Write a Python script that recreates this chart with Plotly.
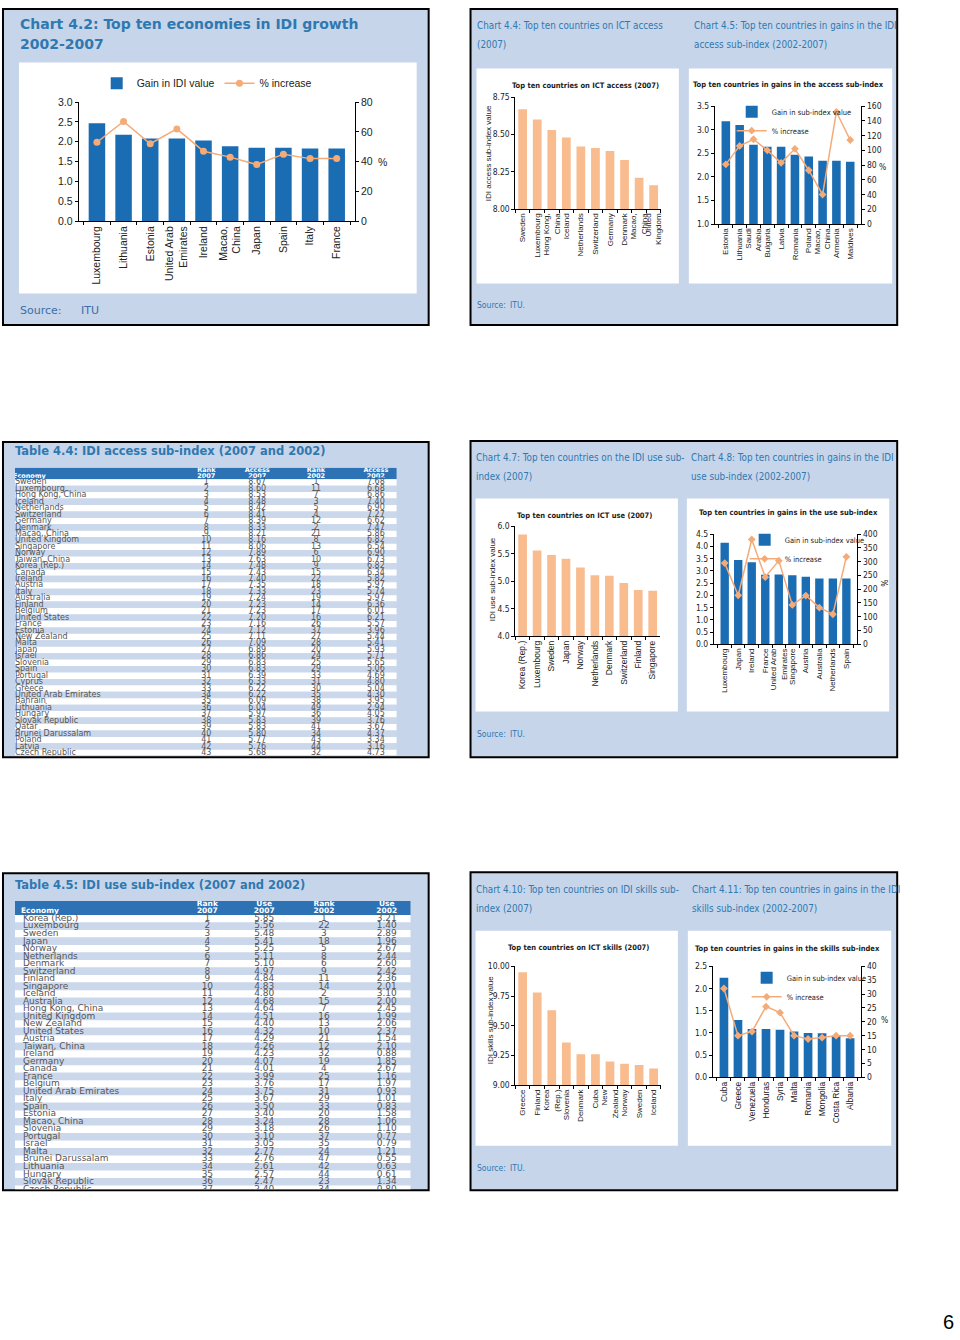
import plotly.graph_objects as go

W, H = 960, 1340
def X(px): return px / W
def Y(py): return 1 - py / H

# ---------------- data ----------------
c42_cats = ["Luxembourg", "Lithuania", "Estonia", "United Arab<br>Emirates", "Ireland",
            "Macao,<br>China", "Japan", "Spain", "Italy", "France"]
c42_gain = [2.47, 2.18, 2.08, 2.08, 2.03, 1.89, 1.85, 1.85, 1.83, 1.83]
c42_pct = [53, 67, 52, 62, 47, 43, 38, 45, 42, 42]

c44_cats = ["Sweden", "Luxembourg", "Hong Kong,<br>China", "Iceland", "Netherlands",
            "Switzerland", "Germany", "Denmark", "Macao,<br>China", "United<br>Kingdom"]
c44_vals = [8.67, 8.60, 8.53, 8.48, 8.42, 8.41, 8.39, 8.33, 8.21, 8.16]

c45_cats = ["Estonia", "Lithuania", "Saudi<br>Arabia", "Bulgaria", "Latvia", "Romania",
            "Poland", "Macao,<br>China", "Armenia", "Maldives"]
c45_gain = [3.18, 3.10, 2.68, 2.64, 2.64, 2.47, 2.43, 2.34, 2.34, 2.32]
c45_pct = [81, 106, 115, 100, 83, 102, 73, 40, 152, 114]

c47_cats = ["Korea (Rep.)", "Luxembourg", "Sweden", "Japan", "Norway", "Netherlands",
            "Denmark", "Switzerland", "Finland", "Singapore"]
c47_vals = [5.85, 5.56, 5.48, 5.41, 5.25, 5.11, 5.10, 4.97, 4.84, 4.83]

c48_cats = ["Luxembourg", "Japan", "Ireland", "France", "United Arab<br>Emirates",
            "Singapore", "Austria", "Australia", "Netherlands", "Spain"]
c48_gain = [4.15, 3.45, 3.35, 2.84, 2.85, 2.82, 2.76, 2.69, 2.69, 2.69]
c48_pct = [295, 178, 381, 244, 304, 143, 177, 133, 109, 318]

c410_cats = ["Greece", "Finland", "Korea<br>(Rep.)", "Slovenia", "Denmark", "Cuba",
             "New<br>Zealand", "Norway", "Sweden", "Iceland"]
c410_vals = [9.95, 9.78, 9.63, 9.36, 9.26, 9.26, 9.20, 9.18, 9.17, 9.14]

c411_cats = ["Cuba", "Greece", "Venezuela", "Honduras", "Syria", "Malta", "Romania",
             "Mongolia", "Costa Rica", "Albania"]
c411_gain = [2.24, 1.29, 1.09, 1.09, 1.07, 1.03, 1.00, 0.99, 0.93, 0.88]
c411_pct = [32, 15, 16.5, 25.5, 23.3, 15, 13.8, 14.3, 15, 15]

t44_econ = ["Sweden", "Luxembourg", "Hong Kong, China", "Iceland", "Netherlands", "Switzerland",
            "Germany", "Denmark", "Macao, China", "United Kingdom", "Singapore", "Norway",
            "Taiwan, China", "Korea (Rep.)", "Canada", "Ireland", "Austria", "Italy", "Australia",
            "Finland", "Belgium", "United States", "France", "Estonia", "New Zealand", "Malta",
            "Japan", "Israel", "Slovenia", "Spain", "Portugal", "Cyprus", "Greece",
            "United Arab Emirates", "Bahrain", "Lithuania", "Hungary", "Slovak Republic", "Qatar",
            "Brunei Darussalam", "Poland", "Latvia", "Czech Republic"]
t44_rank07 = list(range(1, 44))
t44_acc07 = [8.67, 8.60, 8.53, 8.48, 8.42, 8.41, 8.39, 8.33, 8.21, 8.16, 8.06, 7.89, 7.63, 7.48,
             7.43, 7.40, 7.35, 7.33, 7.24, 7.23, 7.23, 7.20, 7.16, 7.12, 7.11, 7.09, 6.89, 6.86,
             6.83, 6.83, 6.39, 6.33, 6.22, 6.22, 6.09, 6.04, 5.97, 5.83, 5.83, 5.80, 5.77, 5.76, 5.68]
t44_rank02 = [1, 11, 7, 3, 5, 4, 12, 2, 21, 8, 13, 6, 10, 9, 15, 22, 18, 23, 19, 14, 17, 16, 26,
              37, 27, 28, 20, 24, 25, 29, 33, 31, 30, 35, 38, 49, 36, 39, 41, 34, 43, 44, 32]
t44_acc02 = [7.68, 6.68, 6.86, 7.40, 6.90, 7.27, 6.62, 7.47, 5.86, 6.82, 6.54, 6.90, 6.73, 6.82,
             6.34, 5.82, 5.97, 5.74, 5.97, 6.36, 6.01, 6.21, 5.57, 3.96, 5.44, 5.41, 5.93, 5.71,
             5.65, 5.06, 4.69, 4.80, 5.04, 4.30, 3.95, 2.94, 4.05, 3.76, 3.67, 4.37, 3.34, 3.16, 4.73]

t45_econ = ["Korea (Rep.)", "Luxembourg", "Sweden", "Japan", "Norway", "Netherlands", "Denmark",
            "Switzerland", "Finland", "Singapore", "Iceland", "Australia", "Hong Kong, China",
            "United Kingdom", "New Zealand", "United States", "Austria", "Taiwan, China", "Ireland",
            "Germany", "Canada", "France", "Belgium", "United Arab Emirates", "Italy", "Spain",
            "Estonia", "Macao, China", "Slovenia", "Portugal", "Israel", "Malta",
            "Brunei Darussalam", "Lithuania", "Hungary", "Slovak Republic", "Czech Republic"]
t45_rank07 = list(range(1, 38))
t45_use07 = [5.85, 5.56, 5.48, 5.41, 5.25, 5.11, 5.10, 4.97, 4.84, 4.83, 4.80, 4.68, 4.64, 4.51,
             4.40, 4.32, 4.29, 4.26, 4.23, 4.07, 4.01, 3.99, 3.76, 3.75, 3.67, 3.50, 3.40, 3.24,
             3.18, 3.10, 3.05, 2.77, 2.76, 2.61, 2.57, 2.47, 2.40]
t45_rank02 = [1, 22, 3, 18, 5, 8, 6, 9, 11, 14, 2, 15, 7, 16, 13, 10, 21, 12, 32, 19, 4, 25, 17,
              31, 29, 33, 20, 28, 26, 37, 35, 24, 47, 42, 44, 23, 34]
t45_use02 = [3.21, 1.40, 2.89, 1.96, 2.67, 2.44, 2.60, 2.42, 2.36, 2.01, 3.10, 2.00, 2.45, 1.99,
             2.06, 2.37, 1.54, 2.10, 0.88, 1.85, 2.67, 1.16, 1.97, 0.93, 1.01, 0.83, 1.58, 1.06,
             1.10, 0.77, 0.79, 1.21, 0.55, 0.63, 0.61, 1.34, 0.80]

# ---------------- styles ----------------
NARROW = "Liberation Sans Narrow, DejaVu Sans Condensed, Arial Narrow, sans-serif"
ARIAL = "Liberation Sans, Arial, sans-serif"
VERD = "DejaVu Sans, Verdana, sans-serif"
PANEL = "#c6d5ea"
TITLE_C = "#2f78b0"
BLUE = "#1b6db3"
PEACH = "#f9bc8e"
LINE_C = "#f5ab78"
ROWBLUE = "#cbd8ec"
HEADBLUE = "#2d72b5"
TXT = "#555555"

fig = go.Figure()
layout = dict(width=W, height=H, margin=dict(l=0, r=0, t=0, b=0),
              paper_bgcolor="white", plot_bgcolor="rgba(0,0,0,0)",
              barmode="overlay", hovermode=False)
shapes, ann = [], []

def rect(x0, y0, x1, y1, fill, lw=0):
    shapes.append(dict(type="rect", xref="paper", yref="paper", x0=X(x0), x1=X(x1),
                       y0=Y(y1), y1=Y(y0), fillcolor=fill, layer="below",
                       line=dict(color="black", width=lw)))

def txt(s, x, y, size, color, family, xanchor="left", yanchor="middle", angle=0):
    ann.append(dict(text=s, x=X(x), y=Y(y), xref="paper", yref="paper", showarrow=False,
                    xanchor=xanchor, yanchor=yanchor, textangle=angle, borderpad=0,
                    font=dict(size=size, color=color, family=family)))

def cat_x(name, anchor, x0, x1, fs, family=ARIAL):
    layout[name] = dict(domain=[X(x0), X(x1)], anchor=anchor, type="category",
                        showline=True, linecolor="black", linewidth=1, ticks="outside",
                        tickson="boundaries", ticklen=3, tickcolor="black", tickangle=-90,
                        tickfont=dict(family=family, size=fs, color="#222"),
                        showgrid=False, zeroline=False, fixedrange=True)

def val_y(name, anchor, ybot, ytop, rng, dtick, fmt, fs, family=NARROW, side="left", overlaying=None):
    d = dict(anchor=anchor, range=rng, dtick=dtick, tick0=rng[0], tickformat=fmt,
             ticks="outside", ticklen=3, tickcolor="black", showline=True, linecolor="black",
             linewidth=1, showgrid=False, zeroline=False, side=side, fixedrange=True,
             tickfont=dict(family=family, size=fs, color="#222"))
    if overlaying:
        d["overlaying"] = overlaying
    else:
        d["domain"] = [Y(ybot), Y(ytop)]
    layout[name] = d

def combo(xa, ya, ya2, cats, gain, pct, legend, gname, symbol, msize):
    fig.add_trace(go.Bar(x=cats, y=gain, xaxis=xa, yaxis=ya, width=0.62, marker_color=BLUE,
                         marker_line_width=0, name=gname, legend=legend))
    fig.add_trace(go.Scatter(x=cats, y=pct, xaxis=xa, yaxis=ya2, mode="lines+markers",
                             line=dict(color=LINE_C, width=1.5),
                             marker=dict(symbol=symbol, size=msize, color=LINE_C),
                             name="% increase", legend=legend))

def single(xa, ya, cats, vals):
    fig.add_trace(go.Bar(x=cats, y=vals, xaxis=xa, yaxis=ya, width=0.6, marker_color=PEACH,
                         marker_line_width=0, showlegend=False))

def small_legend(name, x, y):
    layout[name] = dict(orientation="v", x=X(x), y=Y(y), xanchor="left", yanchor="top",
                        bgcolor="rgba(0,0,0,0)", font=dict(family=NARROW, size=7.5, color="#222"),
                        itemwidth=30, tracegroupgap=0)

# ---------------- panels ----------------
for (x0, y0, x1, y1) in [(3, 3, 430, 322), (472, 3, 900, 322), (3, 440, 430, 758),
                         (472, 439, 900, 758), (3, 875, 430, 1195), (472, 874, 900, 1195)]:
    rect(x0, y0, x1, y1, PANEL, lw=2)
for (x0, y0, x1, y1) in [(19, 57, 418, 290), (478, 63, 681, 280), (691, 63, 895, 280),
                         (477, 497, 680, 712), (689, 497, 892, 712),
                         (477, 933, 680, 1150), (690, 933, 894, 1150)]:
    rect(x0, y0, x1, y1, "white")

TS = 9.8    # panel title size (condensed)
ST = 7.5    # inner chart title size
TK = 8.5    # tick label size
CK = 8      # category label size

# ---------------- Chart 4.2 ----------------
txt("<b>Chart 4.2: Top ten economies in IDI growth</b>", 19, 18, 14, TITLE_C, VERD)
txt("<b>2002-2007</b>", 19, 38, 14, TITLE_C, VERD)
txt("Source:", 19, 307, 11, "#3a6fa8", VERD)
txt("ITU", 80, 307, 11, "#3a6fa8", VERD)
cat_x("xaxis", "y", 79, 356, 10.5)
val_y("yaxis", "x", 217, 97, [0, 3], 0.5, ".1f", 10.5, family=ARIAL)
val_y("yaxis2", "x", 217, 97, [0, 80], 20, "d", 10.5, family=ARIAL, side="right", overlaying="y")
combo("x", "y", "y2", c42_cats, c42_gain, c42_pct, "legend", "Gain in IDI value", "circle", 7)
txt("%", 378, 157, 10.5, "#222", ARIAL)
layout["legend"] = dict(orientation="h", x=X(97), y=Y(78), xanchor="left", yanchor="middle",
                        bgcolor="rgba(0,0,0,0)", font=dict(family=ARIAL, size=10.5, color="#222"),
                        itemwidth=30)

# ---------------- Chart 4.4 / 4.5 ----------------
txt("Chart 4.4: Top ten countries on ICT access", 477, 20, TS, TITLE_C, NARROW)
txt("(2007)", 477, 39, TS, TITLE_C, NARROW)
txt("Chart 4.5: Top ten countries in gains in the IDI", 695, 20, TS, TITLE_C, NARROW)
txt("access sub-index (2002-2007)", 695, 39, TS, TITLE_C, NARROW)
txt("Source:", 477, 302, 8.5, TITLE_C, NARROW)
txt("ITU.", 511, 302, 8.5, TITLE_C, NARROW)

txt("<b>Top ten countries on ICT access (2007)</b>", 587, 80, ST, "#222", NARROW, xanchor="center")
cat_x("xaxis2", "y3", 517, 663, CK)
val_y("yaxis3", "x2", 205, 92, [8, 8.75], 0.25, ".2f", TK)
single("x2", "y3", c44_cats, c44_vals)
txt("IDI access sub-index value", 490, 148, 8, "#222", ARIAL, xanchor="center", angle=-90)

txt("<b>Top ten countries in gains in the access sub-index</b>", 791, 79, ST, "#222", NARROW, xanchor="center")
cat_x("xaxis3", "y4", 717, 864, CK)
val_y("yaxis4", "x3", 220, 101, [1, 3.5], 0.5, ".1f", TK)
val_y("yaxis5", "x3", 220, 101, [0, 160], 20, "d", TK, side="right", overlaying="y4")
combo("x3", "y4", "y5", c45_cats, c45_gain, c45_pct, "legend2", "Gain in sub-index value", "diamond", 6)
txt("%", 881, 162, TK, "#222", NARROW)
small_legend("legend2", 734, 92)

# ---------------- Chart 4.7 / 4.8 ----------------
txt("Chart 4.7: Top ten countries on the IDI use sub-", 476, 456, TS, TITLE_C, NARROW)
txt("index (2007)", 476, 475, TS, TITLE_C, NARROW)
txt("Chart 4.8: Top ten countries in gains in the IDI", 692, 456, TS, TITLE_C, NARROW)
txt("use sub-index (2002-2007)", 692, 475, TS, TITLE_C, NARROW)
txt("Source:", 477, 735, 8.5, TITLE_C, NARROW)
txt("ITU.", 511, 735, 8.5, TITLE_C, NARROW)

txt("<b>Top ten countries on ICT use (2007)</b>", 586, 514, ST, "#222", NARROW, xanchor="center")
cat_x("xaxis4", "y6", 517, 662, 8.5)
val_y("yaxis6", "x4", 636, 525, [4, 6], 0.5, ".1f", TK)
single("x4", "y6", c47_cats, c47_vals)
txt("IDI use sub-index value", 494, 578, 8, "#222", ARIAL, xanchor="center", angle=-90)

txt("<b>Top ten countries in gains in the use sub-index</b>", 791, 511, ST, "#222", NARROW, xanchor="center")
cat_x("xaxis5", "y7", 716, 860, CK)
val_y("yaxis7", "x5", 644, 533, [0, 4.5], 0.5, ".1f", TK)
val_y("yaxis8", "x5", 644, 533, [0, 400], 50, "d", TK, side="right", overlaying="y7")
combo("x5", "y7", "y8", c48_cats, c48_gain, c48_pct, "legend3", "Gain in sub-index value", "diamond", 6)
txt("%", 887, 582, TK, "#222", NARROW, xanchor="center", angle=90)
small_legend("legend3", 747, 524)

# ---------------- Chart 4.10 / 4.11 ----------------
txt("Chart 4.10: Top ten countries on IDI skills sub-", 476, 891, TS, TITLE_C, NARROW)
txt("index (2007)", 476, 911, TS, TITLE_C, NARROW)
txt("Chart 4.11: Top ten countries in gains in the IDI", 693, 891, TS, TITLE_C, NARROW)
txt("skills sub-index (2002-2007)", 693, 911, TS, TITLE_C, NARROW)
txt("Source:", 477, 1173, 8.5, TITLE_C, NARROW)
txt("ITU.", 511, 1173, 8.5, TITLE_C, NARROW)

txt("<b>Top ten countries on ICT skills (2007)</b>", 580, 950, ST, "#222", NARROW, xanchor="center")
cat_x("xaxis6", "y9", 517, 663, CK)
val_y("yaxis9", "x6", 1089, 969, [9, 10], 0.25, ".2f", TK)
single("x6", "y9", c410_cats, c410_vals)
txt("IDI skills sub-index value", 492, 1023, 8, "#222", ARIAL, xanchor="center", angle=-90)

txt("<b>Top ten countries in gains in the skills sub-index</b>", 790, 951, ST, "#222", NARROW, xanchor="center")
cat_x("xaxis7", "y10", 715, 864, 8.5)
val_y("yaxis10", "x7", 1081, 969, [0, 2.5], 0.5, ".1f", TK)
val_y("yaxis11", "x7", 1081, 969, [0, 40], 5, "d", TK, side="right", overlaying="y10")
combo("x7", "y10", "y11", c411_cats, c411_gain, c411_pct, "legend4", "Gain in sub-index value", "diamond", 6)
txt("%", 883, 1023, TK, "#222", NARROW)
small_legend("legend4", 749, 966)

# ---------------- Tables ----------------
def table(xa, ya, xname, yname, x0, x1, y_top, y_bot, rng, hdr_c, hdr_h, hdr_l1, hdr_l2,
          cols, heads, econ, c1, c2, c3, c4, fs, hfs):
    width = x1 - x0
    layout[xname] = dict(domain=[X(x0), X(x1)], anchor=ya, range=[0, width], visible=False,
                         fixedrange=True)
    layout[yname] = dict(domain=[Y(y_bot), Y(y_top)], anchor=xa, range=rng, visible=False,
                         fixedrange=True)
    n = len(econ)
    rows = list(range(n))
    fig.add_trace(go.Bar(y=[hdr_c] + rows, x=[width] * (n + 1), base=0, orientation="h",
                         width=[hdr_h] + [1] * n,
                         marker=dict(color=[HEADBLUE] + [("white" if i % 2 == 0 else ROWBLUE) for i in rows],
                                     line=dict(width=0)),
                         xaxis=xa, yaxis=ya, showlegend=False))
    def tcol(x, y, t, pos, font):
        fig.add_trace(go.Scatter(x=[x] * len(t), y=y, text=t, mode="text", textposition=pos,
                                 textfont=font, xaxis=xa, yaxis=ya, cliponaxis=True,
                                 showlegend=False))
    hfont = dict(family=VERD, size=hfs, color="white", weight="bold")
    rfont = dict(family=VERD, size=fs, color=TXT)
    tcol(cols[0] - 2, [hdr_l2], ["Economy"], "middle right", hfont)
    for cx, (a, b) in zip(cols[1:], heads):
        tcol(cx, [hdr_l1], [a], "middle center", hfont)
        tcol(cx, [hdr_l2], [b], "middle center", hfont)
    tcol(cols[0], rows, econ, "middle right", rfont)
    tcol(cols[1], rows, [str(v) for v in c1], "middle center", rfont)
    tcol(cols[2], rows, [f"{v:.2f}" for v in c2], "middle center", rfont)
    tcol(cols[3], rows, [str(v) for v in c3], "middle center", rfont)
    tcol(cols[4], rows, [f"{v:.2f}" for v in c4], "middle center", rfont)

txt("<b>Table 4.4: IDI access sub-index (2007 and 2002)</b>", 14, 449, 11.5, TITLE_C, VERD)
table("x8", "y12", "xaxis8", "yaxis12", 15, 398, 466, 756, [42.35, -2.27], -1.385, 1.77,
      -1.88, -1.0, [0, 192, 243, 302, 362],
      [("Rank", "2007"), ("Access", "2007"), ("Rank", "2002"), ("Access", "2002")],
      t44_econ, t44_rank07, t44_acc07, t44_rank02, t44_acc02, 8, 6.5)

txt("<b>Table 4.5: IDI use sub-index (2007 and 2002)</b>", 14, 887, 11.5, TITLE_C, VERD)
table("x9", "y13", "xaxis9", "yaxis13", 15, 412, 903, 1194, [36.0, -2.37], -1.435, 1.87,
      -1.98, -1.0, [8, 193, 250, 310, 373],
      [("Rank", "2007"), ("Use", "2007"), ("Rank", "2002"), ("Use", "2002")],
      t45_econ, t45_rank07, t45_use07, t45_rank02, t45_use02, 9, 7.5)

txt("6", 951, 1328, 20, "#000", ARIAL, xanchor="center")

layout["shapes"] = shapes
layout["annotations"] = ann
fig.update_layout(**layout)
fig.write_html("out.html", config={"displayModeBar": False},
               post_script="document.body.style.margin='0px';")
